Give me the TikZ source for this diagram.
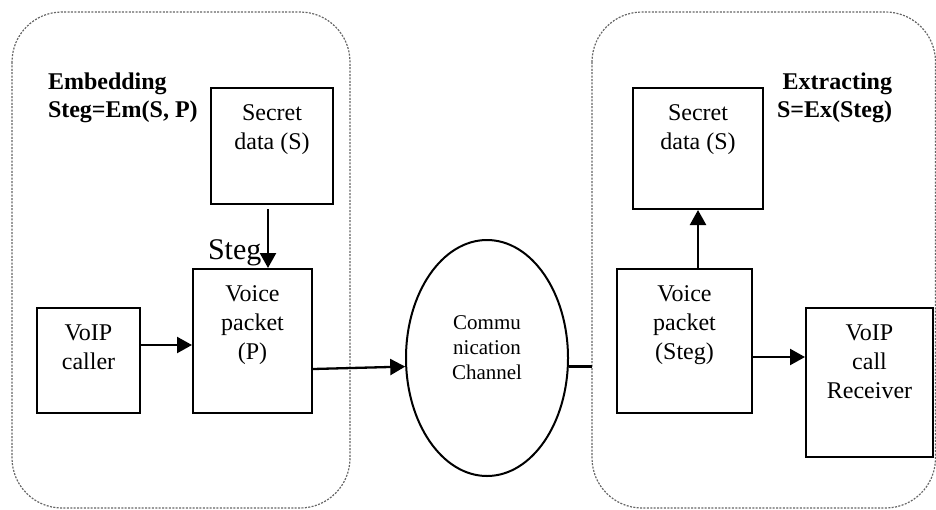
\documentclass[tikz,border=0pt]{standalone}
\usepackage{fontspec}
\setmainfont{Liberation Serif}
\usetikzlibrary{arrows.meta, shapes.geometric, positioning}

\begin{document}
\begin{tikzpicture}[x=0.5pt,y=-0.5pt,>={Triangle[length=7.5pt,width=8pt]},
                    line width=1pt]
  \tikzstyle{frame} = [draw=black!60, line width=0.6pt, dash pattern=on 1pt off 0.7pt, rounded corners=25pt]
  \tikzstyle{block} = [draw, rectangle, line width=1pt, inner sep=0pt]
  \tikzstyle{inside} = [anchor=north, yshift=-8.5pt, inner sep=0pt, align=center, font=\fontsize{12}{14.5}\selectfont]
  \tikzstyle{channel} = [draw, ellipse, line width=1pt, inner sep=0pt, minimum width=81pt, minimum height=118pt]
  \tikzstyle{chantext} = [anchor=center, yshift=5pt, inner sep=0pt, align=center, font=\fontsize{10.5}{12.5}\selectfont]
  \tikzstyle{heading} = [inner sep=0pt, font=\bfseries\fontsize{12}{14}\selectfont]
  \tikzstyle{flow} = [->, line width=1.15pt]
  \useasboundingbox (0,0) rectangle (936,509);

  % the two sides
  \draw[frame] (12,12) rectangle (350,508);
  \draw[frame] (592,12) rectangle (935.5,508);

  % embedding side
  \node[heading, anchor=north west, align=left] (embed) at (47,72) {Embedding\\Steg=Em(S, P)};
  \node[block, minimum width=61pt, minimum height=58pt,
        label={[inside]north:Secret\\data (S)}] (secret) at (272,146) {};
  \node[block, minimum width=59.5pt, minimum height=72pt,
        label={[inside]north:Voice\\packet\\(P)}] (packet) at (252.5,341) {};
  \node[block, minimum width=51.5pt, minimum height=52.5pt,
        label={[inside]north:VoIP\\caller}] (caller) at (88.5,360.5) {};
  \node[anchor=base west, inner sep=0pt, font=\fontsize{15}{18}\selectfont] (steglbl) at (207,259) {Steg};

  % channel
  \node[channel, label={[chantext]center:Commu\\nication\\Channel}] (chan) at (487,358) {};

  % extracting side
  \node[heading, anchor=north east, align=right] (extract) at (893,72) {Extracting\\S=Ex(Steg)};
  \node[block, minimum width=65pt, minimum height=60.5pt,
        label={[inside]north:Secret\\data (S)}] (extracted) at (698,148.5) {};
  \node[block, minimum width=67.5pt, minimum height=72pt,
        label={[inside]north:Voice\\packet\\(Steg)}] (stegpacket) at (684.5,341) {};
  \node[block, minimum width=63.5pt, minimum height=74.5pt,
        label={[inside]north:VoIP\\call\\Receiver}] (receiver) at (869.5,382.5) {};

  % connections
  \coordinate (drop) at ([xshift=-2pt]secret.south);
  \coordinate (callerout) at ([yshift=7.75pt]caller.east);
  \coordinate (packetout) at ([yshift=-14pt]packet.east);
  \coordinate (stegout) at ([yshift=-8pt]stegpacket.east);
  \coordinate (rightedge) at (592,368);

  \draw[flow, shorten <=2pt] (drop) -- (drop |- packet.north);
  \draw[flow] (callerout) -- (callerout -| packet.west);
  \draw[flow] (packetout) -- (chan.186);
  \draw[line width=1.15pt] (chan.354) -- (chan.354 -| rightedge);
  \draw[flow] (stegpacket.north -| extracted.south) -- (extracted.south);
  \draw[flow] (stegout) -- (stegout -| receiver.west);
\end{tikzpicture}
\end{document}
